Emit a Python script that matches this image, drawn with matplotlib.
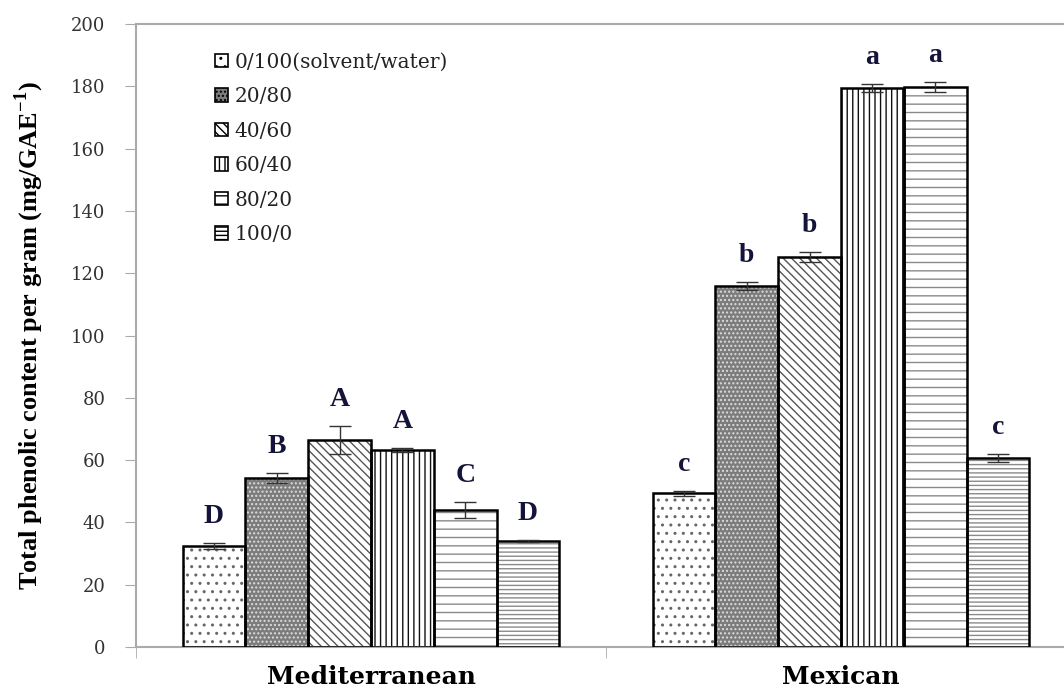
import matplotlib
matplotlib.use("Agg")
import matplotlib.pyplot as plt
from matplotlib.patches import Patch
import numpy as np

groups = ["Mediterranean", "Mexican"]
series = ["0/100(solvent/water)", "20/80", "40/60", "60/40", "80/20", "100/0"]
med_vals = [32.4, 54.3, 66.5, 63.2, 44.0, 34.0]
mex_vals = [49.4, 115.9, 125.2, 179.4, 179.8, 60.7]
med_err = [1.0, 1.5, 4.5, 0.6, 2.7, 0.4]
mex_err = [0.8, 1.3, 1.5, 1.3, 1.7, 1.3]
med_letters = ["D", "B", "A", "A", "C", "D"]
mex_letters = ["c", "b", "b", "a", "a", "c"]

faces = ["white", "#7c7c7c", "white", "white", "white", "white"]
hatches = ["..", "....", "\\\\\\\\", "|||", "--", "----"]
hatch_cols = ["#666666", "#dddddd", "#555555", "#111111", "#8a8a8a", "#8a8a8a"]

plt.rcParams['font.family'] = ['Liberation Serif', 'DejaVu Serif']
plt.rcParams['hatch.linewidth'] = 1.0
WIDE = ['DejaVu Serif']

fig = plt.figure(figsize=(10.64, 6.87), dpi=100)
ax = fig.add_axes([136/1064, 1-647/687, 940/1064, 623/687])

vals = np.array([med_vals, mex_vals])
errs = np.array([med_err, mex_err])
letters = [med_letters, mex_letters]
x = np.arange(len(groups))
w = 0.1336
for i in range(len(series)):
    xs = x + (i - 2.5) * w
    ax.bar(xs, vals[:, i], w, color=faces[i], hatch=hatches[i],
           edgecolor=hatch_cols[i], linewidth=0, zorder=2)
    ax.bar(xs, vals[:, i], w, fill=False, edgecolor="black", linewidth=1.8, zorder=3)
    ax.errorbar(xs, vals[:, i], yerr=errs[:, i], fmt="none", ecolor="#333333",
                elinewidth=1.0, capsize=8, capthick=1.0, zorder=4)
    for g in range(len(groups)):
        ax.text(xs[g], vals[g, i] + errs[g, i] + 4.5, letters[g][i],
                ha="center", va="bottom", fontsize=20, fontweight="bold",
                color="#14143a", zorder=5)

ax.set_xlim(-0.5, 1.5)
ax.set_ylim(0, 200)
ax.set_yticks(np.arange(0, 201, 20))
ax.tick_params(axis="y", labelsize=13, length=8, color="#aaaaaa",
               labelcolor="#333333", pad=14)
for lab in ax.get_yticklabels():
    lab.set_family(WIDE)
ax.set_xticks(x)
ax.set_xticklabels(groups, fontsize=18, fontweight="bold", family=WIDE)
ax.set_xticks([-0.5, 0.5, 1.5], minor=True)
ax.tick_params(axis="x", which="major", length=0, pad=13)
ax.tick_params(axis="x", which="minor", length=8, color="#aaaaaa")
for s in ["left", "bottom", "top"]:
    ax.spines[s].set_color("#aaaaaa")
    ax.spines[s].set_linewidth(1.5)
ax.spines["right"].set_visible(False)

ax.set_ylabel("Total phenolic content per gram (mg/GAE$^{\\mathregular{-1}}$)",
              fontsize=19, fontweight="bold", labelpad=18)

handles = [Patch(facecolor=faces[i], hatch=hatches[i], edgecolor="black",
                 linewidth=1.2) for i in range(len(series))]
leg = ax.legend(handles, series, loc="upper left", bbox_to_anchor=(0.075, 0.967),
                frameon=False, prop={'family': WIDE, 'size': 14.5},
                handlelength=0.65, handleheight=0.65,
                handletextpad=0.35, labelspacing=0.77, borderaxespad=0)
for t in leg.get_texts():
    t.set_color("#222222")

fig.savefig("out.png", dpi=100)
